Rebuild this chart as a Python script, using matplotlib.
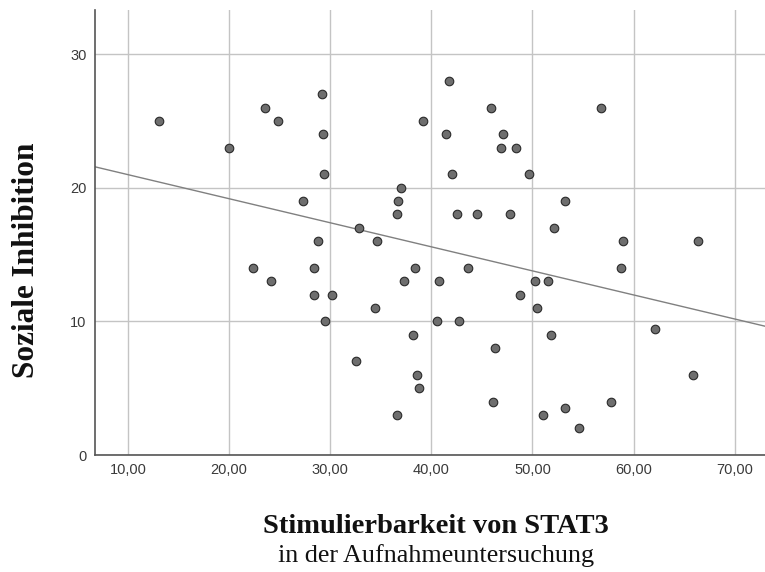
import matplotlib
matplotlib.use("Agg")
import matplotlib.pyplot as plt
import numpy as np

# STAT3 stimulability (admission exam) vs. social inhibition score
stat3 = [13.1, 20.0, 23.6, 24.8, 29.2, 29.3, 29.4, 27.3, 32.8, 34.6,
         28.8, 22.4, 28.4, 24.1, 37.0, 36.7, 36.6, 41.7, 39.2, 45.9,
         56.8, 41.5, 47.1, 46.9, 48.4, 42.0, 49.7, 53.2, 42.5, 44.5,
         47.8, 52.1, 59.0, 66.4, 38.4, 43.6, 58.8, 37.3, 40.8, 50.3,
         51.5, 48.8, 50.5, 40.6, 42.7, 38.2, 51.8, 62.1, 46.3, 38.6,
         65.9, 38.8, 46.1, 57.8, 53.2, 36.6, 51.0, 54.6, 28.4, 30.2,
         34.4, 29.5, 32.6]
inhibition = [25, 23, 26, 25, 27, 24, 21, 19, 17, 16,
              16, 14, 14, 13, 20, 19, 18, 28, 25, 26,
              26, 24, 24, 23, 23, 21, 21, 19, 18, 18,
              18, 17, 16, 16, 14, 14, 14, 13, 13, 13,
              13, 12, 11, 10, 10, 9, 9, 9.4, 8, 6,
              6, 5, 4, 4, 3.5, 3, 3, 2, 12, 12,
              11, 10, 7]

# linear fit line
fit_intercept = 22.78
fit_slope = -0.180

x_ticks = [10, 20, 30, 40, 50, 60, 70]
y_ticks = [0, 10, 20, 30]
x_range = (6.74, 73.0)
y_range = (0, 33.3)

fig = plt.figure(figsize=(7.65, 5.72), dpi=100)
ax = fig.add_axes([0.1242, 0.2045, 0.8758, 0.778])

ax.set_xlim(*x_range)
ax.set_ylim(*y_range)
ax.set_xticks(x_ticks)
ax.set_yticks(y_ticks)
ax.set_xticklabels([f"{t:.2f}".replace(".", ",") for t in x_ticks])
ax.set_yticklabels([str(t) for t in y_ticks])

ax.grid(True, color="#c4c4c4", linewidth=1.0)
ax.set_axisbelow(True)

for side in ["top", "right"]:
    ax.spines[side].set_visible(False)
for side in ["left", "bottom"]:
    ax.spines[side].set_color("#555555")
    ax.spines[side].set_linewidth(1.2)

ax.tick_params(length=0, pad=6, labelsize=10.5, labelcolor="#3a3a3a")
for lbl in ax.get_xticklabels() + ax.get_yticklabels():
    lbl.set_fontfamily("Liberation Sans")

xs = np.array(x_range)
ax.plot(xs, fit_intercept + fit_slope * xs, color="#808080", linewidth=1.0, zorder=2)

ax.scatter(stat3, inhibition, s=38, color="#6e6e6e", edgecolors="#2a2a2a",
           linewidths=0.8, zorder=3, clip_on=False)

fig.text(0.034, 0.545, "Soziale Inhibition", rotation=90, ha="center", va="center",
         fontsize=22.5, fontweight="bold", family="Liberation Serif", color="#111111")
fig.text(0.57, 0.079, "Stimulierbarkeit von STAT3", ha="center", va="center",
         fontsize=20.5, fontweight="bold", family="Liberation Serif", color="#111111")
fig.text(0.57, 0.029, "in der Aufnahmeuntersuchung", ha="center", va="center",
         fontsize=18.8, family="Liberation Serif", color="#111111")

fig.savefig("out.png", dpi=100)
